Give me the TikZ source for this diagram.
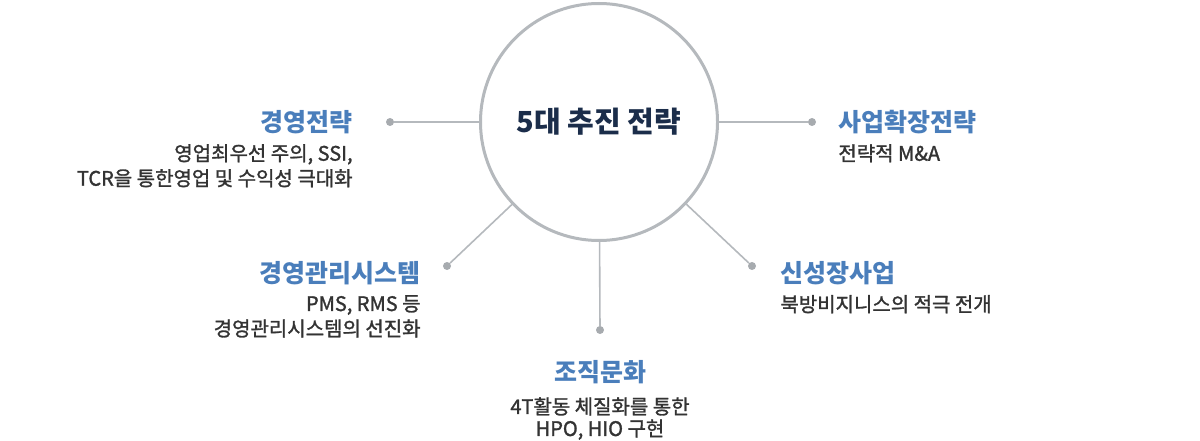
\documentclass[tikz,border=0pt]{standalone}
\usepackage{fontspec}
\setmainfont{Noto Sans CJK KR}
\newfontfamily\bodyfont{Noto Sans CJK KR}[FakeBold=1.4]
\usetikzlibrary{positioning}
\definecolor{ring}{HTML}{B5B9BD}
\definecolor{pinfill}{HTML}{A7ABAF}
\definecolor{head}{HTML}{4A7EBB}
\definecolor{hubtext}{HTML}{1B2D4A}
\definecolor{txt}{HTML}{333333}

\begin{document}
\begin{tikzpicture}[
    x = 1pt, y = -1pt,
    hub/.style   = {circle, draw=ring, line width=3pt, fill=white, minimum size=237pt,
                    inner sep=0pt, text=hubtext, font=\fontsize{29}{34}\selectfont\bfseries},
    dot/.style   = {circle, fill=pinfill, minimum size=8pt, inner sep=0pt},
    link/.style  = {draw=ring, line width=1.6pt},
    title/.style = {inner sep=0pt, text=head, font=\fontsize{25}{28}\selectfont\bfseries},
    body/.style  = {inner sep=0pt, text=txt, font=\bodyfont\fontsize{20}{25}\selectfont},
]
\useasboundingbox (0,0) rectangle (1200,441);

% ---------------------------------------------- hub ----------------------------------------------
\node[hub] (hub) at (599,122) {5대 추진 전략};

% ---------------------------------------------- pins ---------------------------------------------
\node[dot] (dA) at (390,122) {};
\node[dot] (dB) at (812,122) {};
\node[dot] (dC) at (447,266) {};
\node[dot] (dD) at (752,266) {};
\node[dot] (dE) at (600,330) {};

\draw[link] (hub) -- (dA);
\draw[link] (hub) -- (dB);
\draw[link] (hub) -- (dC);
\draw[link] (hub) -- (dD);
\draw[link] (hub) -- (dE);

% --------------------------------------------- labels --------------------------------------------
\node[title, left=33pt of dA] (tA) {경영전략};
\node[body, below=10pt of tA.south east, anchor=north east, align=right] (bA)
    {영업최우선 주의, SSI,\\TCR을 통한영업 및 수익성 극대화};

\node[title, right=22pt of dB] (tB) {사업확장전략};
\node[body, below=10pt of tB.south west, anchor=north west, align=left] (bB) {전략적 M\&A};

\node[title, left=22pt of dC, yshift=-7pt] (tC) {경영관리시스템};
\node[body, below=10pt of tC.south east, anchor=north east, align=right] (bC)
    {PMS, RMS 등\\경영관리시스템의 선진화};

\node[title, right=24pt of dD, yshift=-7pt] (tD) {신성장사업};
\node[body, below=10pt of tD.south west, anchor=north west, align=left] (bD) {북방비지니스의 적극 전개};

\node[title, below=26pt of dE] (tE) {조직문화};
\node[body, below=13pt of tE, align=center, font=\bodyfont\fontsize{20}{22}\selectfont] (bE)
    {4T활동 체질화를 통한\\HPO, HIO 구현};

\end{tikzpicture}
\end{document}
